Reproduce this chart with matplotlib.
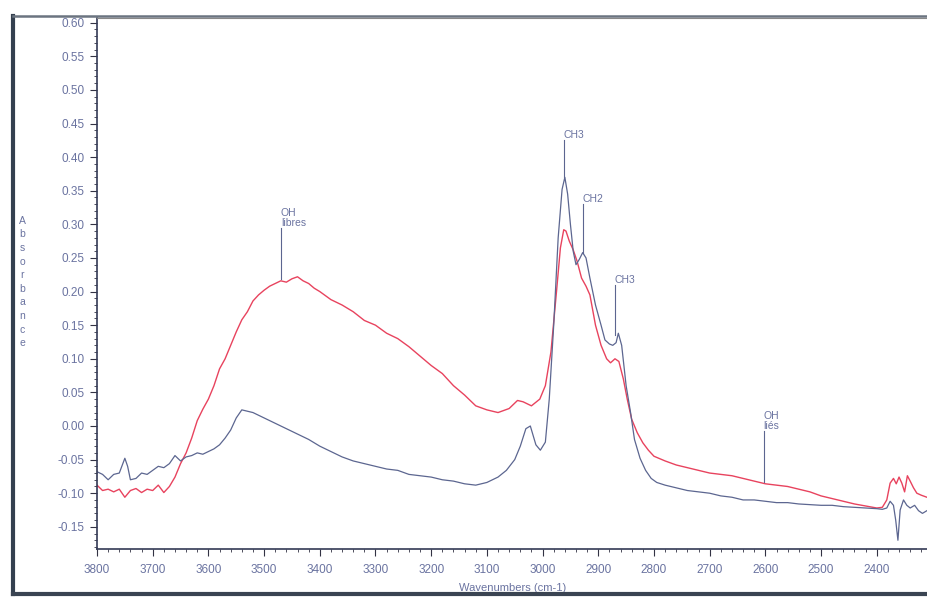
import matplotlib
matplotlib.use("Agg")
import matplotlib.pyplot as plt
from matplotlib.lines import Line2D
from matplotlib.ticker import MultipleLocator

plt.rcParams['font.family'] = ['Liberation Sans', 'DejaVu Sans']

# Sample 1 (red)
red_x = [3800, 3790, 3780, 3770, 3760, 3750, 3740, 3730, 3720, 3710, 3700, 3690, 3680,
         3670, 3660, 3650, 3640, 3630, 3620, 3610, 3600, 3590, 3580, 3570, 3560, 3550,
         3540, 3530, 3520, 3510, 3500, 3490, 3480, 3470, 3460, 3450, 3440, 3430, 3420,
         3410, 3400, 3380, 3360, 3340, 3320, 3300, 3280, 3260, 3240, 3220, 3200, 3180,
         3160, 3140, 3120, 3100, 3080, 3060, 3045, 3035, 3020, 3005, 2995, 2985, 2975,
         2968, 2962, 2958, 2952, 2945, 2938, 2930, 2922, 2915, 2905, 2895, 2885, 2878,
         2870, 2863, 2855, 2848, 2840, 2830, 2820, 2810, 2800, 2780, 2760, 2740, 2720,
         2700, 2680, 2660, 2640, 2620, 2600, 2580, 2560, 2540, 2520, 2500, 2480, 2460,
         2440, 2420, 2400, 2390, 2382, 2376, 2370, 2365, 2360, 2355, 2350, 2345, 2340,
         2334, 2328, 2320, 2310]
red_y = [-0.088, -0.096, -0.094, -0.098, -0.094, -0.106, -0.096, -0.093, -0.099, -0.094,
         -0.096, -0.088, -0.099, -0.090, -0.076, -0.056, -0.040, -0.018, 0.008, 0.025,
         0.040, 0.060, 0.085, 0.100, 0.120, 0.140, 0.158, 0.170, 0.186, 0.195, 0.202,
         0.208, 0.212, 0.216, 0.214, 0.219, 0.222, 0.216, 0.212, 0.205, 0.200, 0.188,
         0.180, 0.170, 0.157, 0.150, 0.138, 0.130, 0.118, 0.104, 0.090, 0.078, 0.060,
         0.046, 0.030, 0.024, 0.020, 0.026, 0.038, 0.036, 0.030, 0.040, 0.060, 0.110,
         0.200, 0.265, 0.292, 0.290, 0.275, 0.262, 0.245, 0.220, 0.208, 0.195, 0.150,
         0.120, 0.100, 0.094, 0.100, 0.096, 0.070, 0.040, 0.010, -0.010, -0.025, -0.036,
         -0.045, -0.052, -0.058, -0.062, -0.066, -0.070, -0.072, -0.074, -0.078, -0.082,
         -0.086, -0.088, -0.090, -0.094, -0.098, -0.104, -0.108, -0.112, -0.116, -0.119,
         -0.122, -0.121, -0.110, -0.085, -0.078, -0.086, -0.076, -0.085, -0.098, -0.074,
         -0.082, -0.092, -0.100, -0.103, -0.106]

# Sample 2 (blue-grey)
blue_x = [3800, 3790, 3780, 3770, 3760, 3750, 3745, 3740, 3730, 3720, 3710, 3700, 3690,
          3680, 3670, 3660, 3650, 3640, 3630, 3620, 3610, 3600, 3590, 3580, 3570, 3560,
          3550, 3540, 3530, 3520, 3510, 3500, 3480, 3460, 3440, 3420, 3400, 3380, 3360,
          3340, 3320, 3300, 3280, 3260, 3240, 3220, 3200, 3180, 3160, 3140, 3120, 3100,
          3080, 3065, 3050, 3040, 3030, 3022, 3012, 3004, 2995, 2988, 2980, 2972, 2965,
          2960, 2955, 2950, 2945, 2940, 2934, 2928, 2922, 2915, 2905, 2895, 2888, 2880,
          2874, 2868, 2864, 2858, 2850, 2842, 2835, 2825, 2815, 2805, 2795, 2780, 2760,
          2740, 2720, 2700, 2680, 2660, 2640, 2620, 2600, 2580, 2560, 2540, 2520, 2500,
          2480, 2460, 2440, 2420, 2400, 2390, 2382, 2376, 2370, 2366, 2362, 2358, 2352,
          2346, 2340, 2332, 2325, 2318, 2310]
blue_y = [-0.068, -0.072, -0.080, -0.072, -0.070, -0.048, -0.060, -0.080, -0.078, -0.070,
          -0.072, -0.066, -0.060, -0.062, -0.056, -0.044, -0.052, -0.046, -0.044, -0.040,
          -0.042, -0.038, -0.034, -0.028, -0.018, -0.006, 0.012, 0.024, 0.022, 0.020,
          0.016, 0.012, 0.004, -0.004, -0.012, -0.020, -0.030, -0.038, -0.046, -0.052,
          -0.056, -0.060, -0.064, -0.066, -0.072, -0.074, -0.076, -0.080, -0.082, -0.086,
          -0.088, -0.084, -0.076, -0.066, -0.050, -0.030, -0.004, 0.000, -0.028, -0.036,
          -0.024, 0.040, 0.150, 0.280, 0.352, 0.370, 0.345, 0.300, 0.260, 0.240, 0.248,
          0.258, 0.250, 0.220, 0.180, 0.150, 0.128, 0.122, 0.120, 0.124, 0.138, 0.120,
          0.060, 0.020, -0.020, -0.048, -0.066, -0.078, -0.084, -0.088, -0.092, -0.096,
          -0.098, -0.100, -0.104, -0.106, -0.110, -0.110, -0.112, -0.114, -0.114, -0.116,
          -0.117, -0.118, -0.118, -0.120, -0.121, -0.122, -0.123, -0.124, -0.122, -0.112,
          -0.118, -0.140, -0.170, -0.125, -0.110, -0.118, -0.122, -0.118, -0.126, -0.130,
          -0.126]

xticks = [3800, 3700, 3600, 3500, 3400, 3300, 3200, 3100, 3000, 2900, 2800, 2700, 2600, 2500, 2400]
yticks = [-0.15, -0.10, -0.05, 0.00, 0.05, 0.10, 0.15, 0.20, 0.25, 0.30, 0.35, 0.40, 0.45, 0.50, 0.55, 0.60]

ann_labels = ["OH\nlibres", "CH3", "CH2", "CH3", "OH\nliés"]
ann_x = [3470, 2962, 2928, 2870, 2603]
ann_base = [0.218, 0.370, 0.258, 0.135, -0.084]
ann_top = [0.295, 0.425, 0.330, 0.210, -0.008]

text_col = '#6a73a0'
red_col = '#e8435e'
blue_col = '#5c6690'

fig = plt.figure(figsize=(9.28, 5.99), dpi=100)
ax = fig.add_axes([97/928, 1 - 549/599, 1 - 97/928, (549 - 18)/599])
ax.plot(red_x, red_y, color=red_col, lw=1.0)
ax.plot(blue_x, blue_y, color=blue_col, lw=0.9)
ax.set_xlim(3800, 2308)
ax.set_ylim(-0.183, 0.607)
ax.set_xticks(xticks)
ax.set_xticklabels([str(v) for v in xticks])
ax.set_yticks(yticks)
ax.set_yticklabels([f"{v:.2f}" for v in yticks])
ax.xaxis.set_minor_locator(MultipleLocator(20))
ax.yaxis.set_minor_locator(MultipleLocator(0.01))
ax.tick_params(axis='both', which='major', direction='out', length=5, width=0.8,
               colors='#334', labelcolor=text_col, labelsize=8.5)
ax.tick_params(axis='both', which='minor', direction='out', length=2.5, width=0.6, colors='#334')
ax.tick_params(axis='x', pad=6)
ax.tick_params(axis='y', pad=4)
ax.spines['right'].set_visible(False)
ax.spines['top'].set_color('#888')
ax.spines['left'].set_color('#333a55')
ax.spines['bottom'].set_color('#333a55')
ax.spines['left'].set_linewidth(1.2)
ax.spines['bottom'].set_linewidth(1.2)

for lab, x, b, t in zip(ann_labels, ann_x, ann_base, ann_top):
    ax.plot([x, x], [b, t], color=blue_col, lw=0.8)
    ax.text(x, t, lab, color=text_col, fontsize=7.5, ha='left', va='bottom',
            linespacing=1.0)

ax.set_xlabel("Wavenumbers (cm-1)", color=text_col, fontsize=8, labelpad=5)
fig.text(22/928, 1 - 282/599, "\n".join("Absorbance"), color=text_col, fontsize=7.5,
         ha='center', va='center', linespacing=1.45)

# scanned page frame
fy_top = 1 - 16/599
fy_bot = 1 - 594/599
fx_left = 13/928
fig.add_artist(Line2D([fx_left, fx_left], [fy_bot, fy_top], transform=fig.transFigure,
                      color='#34404f', lw=3.0))
fig.add_artist(Line2D([fx_left, 1.0], [fy_top, fy_top], transform=fig.transFigure,
                      color='#6b7480', lw=1.8))
fig.add_artist(Line2D([fx_left, 1.0], [fy_bot, fy_bot], transform=fig.transFigure,
                      color='#3a4452', lw=3.0))

fig.savefig("out.png", dpi=100)
